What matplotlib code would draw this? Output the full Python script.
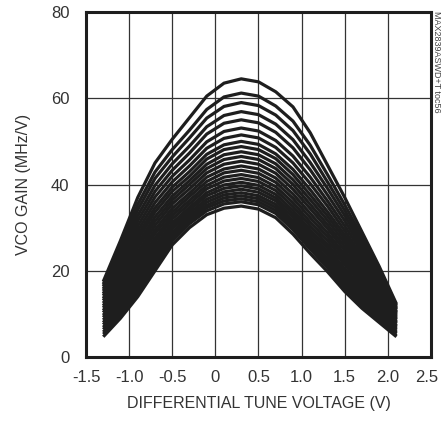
import matplotlib
matplotlib.use("Agg")
import matplotlib.pyplot as plt
import matplotlib.transforms as mtransforms

# tune voltage sample points (V)
tune_v = [-1.3, -1.1, -0.9, -0.7, -0.5, -0.3, -0.1, 0.1, 0.3, 0.5,
          0.7, 0.9, 1.1, 1.3, 1.5, 1.7, 1.9, 2.1]

# VCO gain (MHz/V) for each band, bottom curve first
gain_curves = [
    [4.7, 9.0, 14.0, 20.0, 26.0, 30.0, 33.0, 34.5, 35.0, 34.3, 32.3, 28.5, 24.0, 19.8, 15.2, 11.3, 8.0, 4.7],
    [5.3, 9.7, 14.9, 21.0, 26.9, 30.9, 33.9, 35.5, 36.0, 35.3, 33.3, 29.5, 25.0, 20.7, 16.0, 12.0, 8.5, 5.0],
    [5.8, 10.5, 15.7, 21.8, 27.6, 31.5, 34.6, 36.2, 36.7, 36.0, 34.0, 30.2, 25.7, 21.5, 16.8, 12.7, 9.1, 5.4],
    [6.4, 11.2, 16.5, 22.5, 28.2, 32.1, 35.2, 36.9, 37.4, 36.7, 34.7, 30.9, 26.4, 22.2, 17.5, 13.3, 9.6, 5.7],
    [6.9, 11.9, 17.4, 23.3, 28.9, 32.7, 35.9, 37.6, 38.1, 37.4, 35.4, 31.6, 27.1, 22.9, 18.2, 14.0, 10.1, 6.0],
    [7.5, 12.6, 18.2, 24.2, 29.7, 33.4, 36.6, 38.3, 38.9, 38.2, 36.2, 32.4, 27.9, 23.7, 19.0, 14.7, 10.7, 6.4],
    [8.0, 13.3, 19.1, 25.0, 30.4, 34.1, 37.4, 39.1, 39.7, 39.0, 36.9, 33.2, 28.7, 24.5, 19.8, 15.4, 11.2, 6.7],
    [8.6, 14.0, 19.9, 25.8, 31.1, 34.7, 38.1, 39.9, 40.5, 39.8, 37.7, 34.0, 29.5, 25.3, 20.5, 16.1, 11.7, 7.0],
    [9.2, 14.8, 20.8, 26.7, 32.0, 35.5, 39.0, 40.8, 41.4, 40.7, 38.6, 34.9, 30.4, 26.1, 21.4, 16.8, 12.3, 7.3],
    [9.7, 15.5, 21.7, 27.6, 32.8, 36.3, 39.8, 41.7, 42.3, 41.6, 39.5, 35.8, 31.3, 27.0, 22.2, 17.5, 12.8, 7.7],
    [10.3, 16.3, 22.6, 28.6, 33.6, 37.2, 40.7, 42.7, 43.3, 42.6, 40.5, 36.8, 32.3, 27.9, 23.0, 18.2, 13.4, 8.0],
    [10.8, 17.0, 23.5, 29.5, 34.5, 38.0, 41.7, 43.6, 44.3, 43.6, 41.5, 37.8, 33.3, 28.8, 23.8, 18.9, 13.9, 8.3],
    [11.4, 17.8, 24.4, 30.5, 35.5, 39.0, 42.7, 44.7, 45.4, 44.7, 42.6, 38.9, 34.4, 29.8, 24.7, 19.6, 14.5, 8.7],
    [11.9, 18.5, 25.4, 31.5, 36.4, 40.0, 43.7, 45.8, 46.5, 45.8, 43.7, 40.0, 35.4, 30.7, 25.6, 20.4, 15.0, 9.0],
    [12.5, 19.3, 26.3, 32.5, 37.3, 40.9, 44.7, 46.9, 47.6, 46.9, 44.8, 41.1, 36.5, 31.7, 26.5, 21.1, 15.6, 9.3],
    [13.1, 20.1, 27.3, 33.6, 38.4, 41.9, 45.9, 48.1, 48.8, 48.1, 46.0, 42.3, 37.6, 32.7, 27.4, 21.9, 16.1, 9.7],
    [13.6, 20.8, 28.3, 34.6, 39.4, 43.0, 47.0, 49.2, 50.0, 49.3, 47.1, 43.5, 38.8, 33.7, 28.3, 22.6, 16.7, 10.0],
    [14.2, 21.7, 29.3, 35.8, 40.6, 44.3, 48.4, 50.7, 51.5, 50.8, 48.6, 45.0, 40.2, 35.0, 29.3, 23.4, 17.3, 10.3],
    [14.7, 22.5, 30.4, 37.1, 41.9, 45.7, 49.9, 52.3, 53.1, 52.4, 50.2, 46.6, 41.7, 36.2, 30.4, 24.3, 17.9, 10.6],
    [15.3, 23.3, 31.6, 38.4, 43.3, 47.3, 51.7, 54.2, 55.0, 54.3, 52.1, 48.5, 43.4, 37.6, 31.6, 25.1, 18.5, 11.0],
    [15.8, 24.2, 32.8, 39.8, 44.8, 48.9, 53.4, 56.0, 56.9, 56.2, 54.0, 50.4, 45.1, 39.1, 32.8, 26.0, 19.1, 11.3],
    [16.4, 25.1, 34.1, 41.4, 46.4, 50.8, 55.4, 58.1, 59.0, 58.3, 56.1, 52.5, 47.1, 40.6, 34.0, 26.9, 19.7, 11.6],
    [16.9, 26.0, 35.4, 42.9, 48.1, 52.6, 57.4, 60.3, 61.2, 60.5, 58.2, 54.7, 49.1, 42.3, 35.3, 27.9, 20.3, 12.0],
    [17.5, 27.0, 37.0, 45.0, 50.5, 55.5, 60.5, 63.5, 64.5, 63.8, 61.5, 58.0, 52.0, 44.5, 37.0, 29.0, 21.0, 12.3],
]

x_ticks = [-1.5, -1.0, -0.5, 0, 0.5, 1.0, 1.5, 2.0, 2.5]
x_labels = ["-1.5", "-1.0", "-0.5", "0", "0.5", "1.0", "1.5", "2.0", "2.5"]
y_ticks = [0, 20, 40, 60, 80]

plt.rcParams['font.family'] = ['Liberation Sans', 'DejaVu Sans']

fig = plt.figure(figsize=(4.42, 4.21), dpi=100)
ax = fig.add_axes([0.1946, 0.152, 0.7804, 0.8195])

for g in gain_curves:
    ax.plot(tune_v, g, color='#1e1e1e', lw=2.3, solid_joinstyle='round',
            solid_capstyle='butt', zorder=3)

ax.set_xlim(-1.5, 2.5)
ax.set_ylim(0, 80)
ax.set_xticks(x_ticks)
ax.set_xticklabels(x_labels)
ax.set_yticks(y_ticks)
ax.tick_params(length=0, labelsize=12, labelcolor='#333333')
ax.tick_params(axis='x', pad=9)
ax.tick_params(axis='y', pad=12)
ax.grid(True, color='#333333', lw=0.9, zorder=1)
for s in ax.spines.values():
    s.set_linewidth(2.2)
    s.set_color('#1e1e1e')

# keep the last x label inside the figure
last = ax.get_xticklabels()[-1]
last.set_transform(last.get_transform() +
                   mtransforms.ScaledTranslation(-4 / 100, 0, fig.dpi_scale_trans))

ax.set_xlabel("DIFFERENTIAL TUNE VOLTAGE (V)", fontsize=11.5, color='#333333', labelpad=8)
ax.set_ylabel("VCO GAIN (MHz/V)", fontsize=11.5, color='#333333', labelpad=14)

fig.text(0.988, 0.975, "MAX2839ASWD+T toc56", rotation=270, fontsize=6.5,
         color='#444444', ha='center', va='top')

fig.savefig("out.png", dpi=100)
